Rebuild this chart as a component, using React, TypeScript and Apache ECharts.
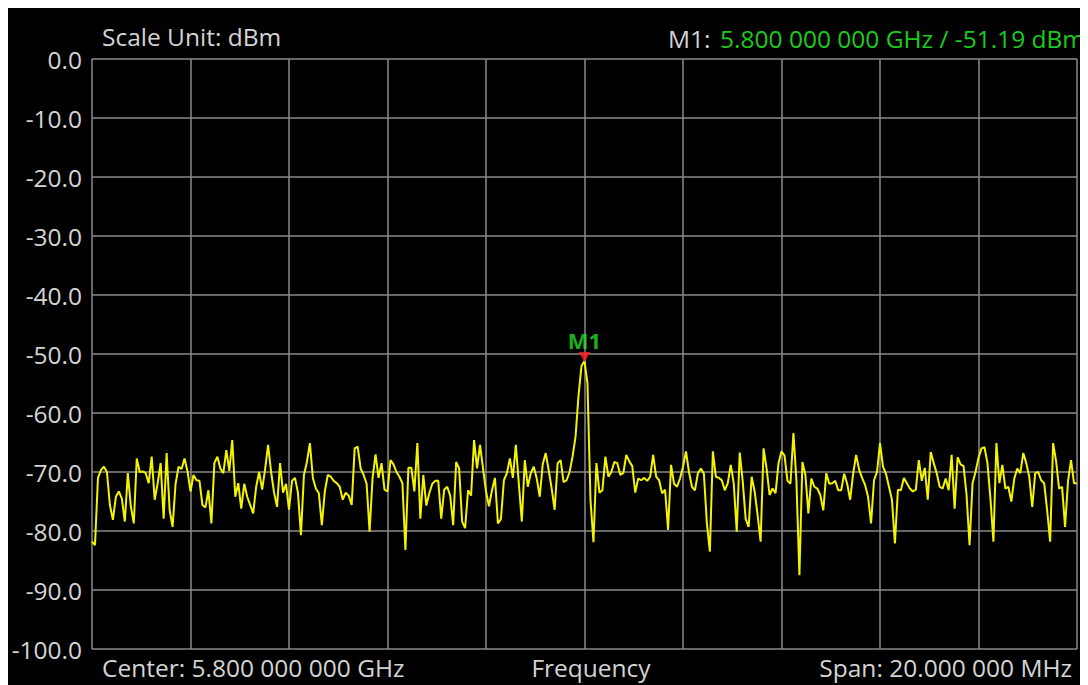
import React, { useEffect, useRef } from "react";
import * as echarts from "echarts";

// Trace amplitude (dBm), 331 frequency bins across the 20 MHz span
const traceA = [
  -81.8, -82.4, -71.0, -69.7, -69.1, -70.0, -75.6, -78.1, -74.2, -73.3,
  -74.5, -78.4, -70.2, -75.8, -78.7, -67.7, -70.0, -69.9, -70.2, -71.9,
  -67.4, -74.7, -71.9, -68.5, -77.9, -66.8, -76.4, -79.3, -72.0, -69.1,
  -69.5, -67.7, -69.9, -73.3, -70.5, -71.4, -71.5, -75.6, -76.0, -73.1,
  -78.7, -68.5, -67.4, -69.4, -70.2, -66.3, -69.8, -64.6, -74.2, -71.9,
  -76.2, -72.0, -74.2, -75.6, -77.0, -72.5,
];
const traceB = [
  -70.0, -73.0, -69.5, -65.4, -70.0, -73.5, -75.9, -68.5, -73.5, -72.0,
  -76.4, -71.5, -71.0, -73.5, -80.7, -70.5, -68.3, -65.1, -71.0, -72.8,
  -73.6, -79.0, -73.3, -70.5, -70.8, -71.5, -71.9, -72.5, -74.7, -73.5,
  -74.0, -75.6, -66.0, -65.7, -69.4, -70.5, -72.0, -80.1, -71.0, -67.0,
  -71.0, -68.5, -73.0, -73.3, -68.0, -68.7, -70.0, -70.8, -71.9, -83.2,
  -69.3, -69.3, -73.3, -65.1, -77.9, -70.5,
];
const traceC = [
  -75.7, -73.6, -72.0, -71.5, -71.5, -77.9, -73.0, -72.5, -74.0, -79.0,
  -68.3, -69.4, -78.4, -79.5, -73.1, -74.0, -64.6, -69.4, -65.4, -69.4,
  -73.3, -75.8, -73.1, -71.0, -78.7, -78.0, -71.4, -70.2, -67.7, -71.0,
  -65.4, -72.0, -78.4, -68.0, -72.5, -70.2, -69.1, -71.1, -74.2, -68.7,
  -66.8, -69.7, -72.8, -76.4, -68.5, -68.0, -71.7, -71.4, -70.0, -67.4,
  -64.0, -57.0, -52.0, -51.19, -55.0, -74.7, -81.9,
];
const traceD = [
  -68.5, -73.5, -73.1, -67.4, -70.8, -70.0, -68.3, -68.5, -70.5, -70.2,
  -67.1, -68.2, -69.0, -73.5, -71.1, -71.4, -71.0, -71.5, -70.8, -67.1,
  -70.8, -71.4, -73.6, -73.0, -79.8, -68.8, -72.0, -72.5, -71.1, -69.1,
  -66.5, -70.0, -72.5, -73.1, -70.2, -69.4, -70.3, -78.7, -83.5, -66.5,
  -70.8, -71.0, -71.4, -73.1, -71.9, -68.8, -71.9, -80.1, -66.7, -71.5,
  -78.0, -79.3, -70.8,
];
const traceE = [
  -73.3, -77.3, -81.8, -66.0, -69.4, -73.9, -72.8, -73.6, -68.5, -66.5,
  -67.2, -71.5, -72.0, -63.4, -71.5, -87.5, -68.3, -70.5, -77.0, -71.1,
  -72.5, -72.8, -73.9, -76.5, -70.2, -72.0, -71.9, -71.5, -73.1, -73.1,
  -70.3, -72.0, -74.7, -70.3, -67.1, -69.6, -71.0, -72.2, -74.2, -78.7,
  -71.4, -70.0, -65.1, -69.1, -70.3, -72.5, -74.7, -82.1, -73.0, -73.1,
  -71.0, -71.9, -72.8, -73.3, -73.0, -68.0,
];
const traceF = [
  -71.5, -69.3, -74.7, -66.6, -68.5, -70.2, -72.5, -72.8, -71.1, -73.1,
  -67.1, -76.2, -67.5, -68.7, -69.0, -73.9, -82.4, -71.9, -70.0, -67.6,
  -66.0, -65.8, -68.5, -74.5, -81.8, -65.1, -71.9, -68.8, -72.8, -72.5,
  -75.0, -71.1, -69.4, -70.2, -66.8, -68.5, -70.8, -75.9, -70.2, -70.0,
  -71.4, -71.9, -76.5, -81.8, -65.1, -68.2, -72.8, -72.5, -79.3, -71.5,
  -68.0, -71.9, -71.9,
];
const trace = [...traceA, ...traceB, ...traceC, ...traceD, ...traceE, ...traceF];

const markerIndex = 165;
const markerValue = -51.19;
const markerName = "M1";

const yMin = -100;
const yMax = 0;
const yStep = 10;
const xDivisions = 10;

const scaleText = "Scale Unit: dBm";
const markerReadoutLabel = "M1:";
const markerReadout = "5.800 000 000 GHz / -51.19 dBm";
const centerText = "Center: 5.800 000 000 GHz";
const axisText = "Frequency";
const spanText = "Span: 20.000 000 MHz";

const FONT = '"Open Sans", "Noto Sans", sans-serif';
const FS = 24.5;
const TEXT = "#d4d4d4";
const GREEN = "#1ccc1c";
const GRID = "#8a8a8a";

export default function App() {
  const ref = useRef<HTMLDivElement>(null);
  useEffect(() => {
    if (!ref.current) return;
    const chart = echarts.init(ref.current, undefined, { renderer: "svg" });
    const lastIndex = trace.length - 1;
    chart.setOption({
      animation: false,
      backgroundColor: "#000",
      grid: {
        left: 84,
        top: 51,
        right: 11,
        bottom: 36,
        containLabel: false,
        outerBoundsMode: "none",
      },
      xAxis: {
        type: "value",
        min: 0,
        max: lastIndex,
        interval: lastIndex / xDivisions,
        axisLine: { show: false },
        axisTick: { show: false },
        axisLabel: { show: false },
        splitLine: { show: true, lineStyle: { color: GRID, width: 1.5 } },
      },
      yAxis: {
        type: "value",
        min: yMin,
        max: yMax,
        interval: yStep,
        axisLine: { show: false },
        axisTick: { show: false },
        axisLabel: {
          color: TEXT,
          fontSize: FS,
          fontFamily: FONT,
          margin: 10,
          formatter: (v: number) => v.toFixed(1),
        },
        splitLine: { show: true, lineStyle: { color: GRID, width: 1.5 } },
      },
      series: [
        {
          type: "line",
          data: trace.map((v, i) => [i, v]),
          showSymbol: false,
          symbol: "none",
          lineStyle: { color: "#f4f400", width: 2 },
          z: 3,
        },
        {
          type: "scatter",
          data: [[markerIndex, markerValue]],
          symbol: "triangle",
          symbolRotate: 180,
          symbolSize: [12, 10],
          symbolOffset: [0, -4],
          itemStyle: { color: "#ff2020" },
          label: {
            show: true,
            position: "top",
            distance: 1,
            formatter: markerName,
            color: "#26e026",
            fontWeight: "bold",
            fontSize: 22,
            fontFamily: FONT,
          },
          z: 5,
        },
      ],
      graphic: [
        {
          type: "text",
          x: 94,
          y: 28.5,
          style: { text: scaleText, fill: TEXT, fontSize: FS, fontFamily: FONT, align: "left", verticalAlign: "middle" },
        },
        {
          type: "text",
          x: 660,
          y: 30,
          style: { text: markerReadoutLabel, fill: TEXT, fontSize: FS, fontFamily: FONT, align: "left", verticalAlign: "middle" },
        },
        {
          type: "text",
          x: 1077,
          y: 30,
          style: { text: markerReadout, fill: GREEN, fontSize: FS, fontFamily: FONT, align: "right", verticalAlign: "middle" },
        },
        {
          type: "text",
          x: 94,
          y: 659.5,
          style: { text: centerText, fill: TEXT, fontSize: FS, fontFamily: FONT, align: "left", verticalAlign: "middle" },
        },
        {
          type: "text",
          x: 583,
          y: 659.5,
          style: { text: axisText, fill: TEXT, fontSize: FS, fontFamily: FONT, align: "center", verticalAlign: "middle" },
        },
        {
          type: "text",
          x: 1064,
          y: 659.5,
          style: { text: spanText, fill: TEXT, fontSize: FS, fontFamily: FONT, align: "right", verticalAlign: "middle" },
        },
      ],
    });
    return () => chart.dispose();
  }, []);
  return <div ref={ref} style={{ width: 1080, height: 677, background: "#000" }} />;
}
